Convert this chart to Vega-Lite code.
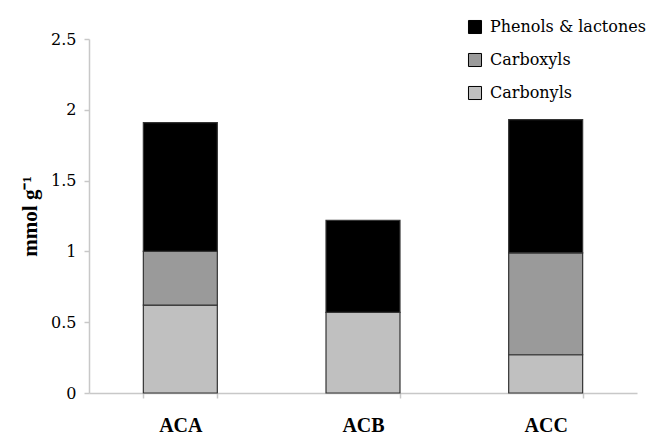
{
  "$schema": "https://vega.github.io/schema/vega-lite/v6.json",
  "autosize": "none",
  "width": 548,
  "height": 354,
  "padding": {"left": 89, "top": 39, "right": 9, "bottom": 42},
  "background": "white",
  "config": {
    "view": {"stroke": null},
    "font": "DejaVu Serif"
  },
  "data": {
    "values": [
      {"sample": "ACA", "group": "Carbonyls", "k": 1, "value": 0.62},
      {"sample": "ACA", "group": "Carboxyls", "k": 2, "value": 0.38},
      {"sample": "ACA", "group": "Phenols & lactones", "k": 3, "value": 0.91},
      {"sample": "ACB", "group": "Carbonyls", "k": 1, "value": 0.57},
      {"sample": "ACB", "group": "Carboxyls", "k": 2, "value": 0.0},
      {"sample": "ACB", "group": "Phenols & lactones", "k": 3, "value": 0.65},
      {"sample": "ACC", "group": "Carbonyls", "k": 1, "value": 0.27},
      {"sample": "ACC", "group": "Carboxyls", "k": 2, "value": 0.72},
      {"sample": "ACC", "group": "Phenols & lactones", "k": 3, "value": 0.94}
    ]
  },
  "mark": {"type": "bar", "stroke": "#333333", "strokeWidth": 1.2},
  "encoding": {
    "x": {
      "field": "sample",
      "type": "nominal",
      "scale": {"paddingInner": 0.595, "paddingOuter": 0.2975},
      "axis": {
        "title": null,
        "labelAngle": 0,
        "labelFont": "Liberation Serif",
        "labelFontWeight": "bold",
        "labelFontSize": 20,
        "labelColor": "black",
        "labelPadding": 17,
        "domainColor": "#c8c8c8",
        "domainWidth": 1.5,
        "tickColor": "#c8c8c8",
        "tickSize": 5,
        "tickWidth": 1.5,
        "tickBand": "extent"
      }
    },
    "y": {
      "field": "value",
      "type": "quantitative",
      "stack": "zero",
      "scale": {"domain": [0, 2.5], "nice": false},
      "axis": {
        "title": "mmol g⁻¹",
        "titleFont": "Liberation Serif",
        "titleFontSize": 21,
        "titleFontWeight": "bold",
        "titleColor": "black",
        "titlePadding": 10,
        "values": [0, 0.5, 1, 1.5, 2, 2.5],
        "labelExpr": "'' + datum.value",
        "labelFont": "DejaVu Serif",
        "labelFontSize": 16,
        "labelColor": "black",
        "labelPadding": 8,
        "grid": false,
        "domainColor": "#c8c8c8",
        "domainWidth": 1.5,
        "tickColor": "#c8c8c8",
        "tickSize": 5,
        "tickWidth": 1.5
      }
    },
    "color": {
      "field": "group",
      "type": "nominal",
      "sort": ["Phenols & lactones", "Carboxyls", "Carbonyls"],
      "scale": {
        "domain": ["Phenols & lactones", "Carboxyls", "Carbonyls"],
        "range": ["#000000", "#9a9a9a", "#c0c0c0"]
      },
      "legend": {
        "title": null,
        "orient": "none",
        "legendX": 378,
        "legendY": -20,
        "padding": 0,
        "symbolType": "square",
        "symbolSize": 170,
        "symbolStrokeColor": "#000000",
        "symbolStrokeWidth": 1,
        "labelFont": "DejaVu Serif",
        "labelFontSize": 16,
        "labelColor": "black",
        "labelOffset": 7,
        "labelLimit": 300,
        "rowPadding": 15
      }
    },
    "order": {"field": "k", "type": "quantitative"}
  }
}
